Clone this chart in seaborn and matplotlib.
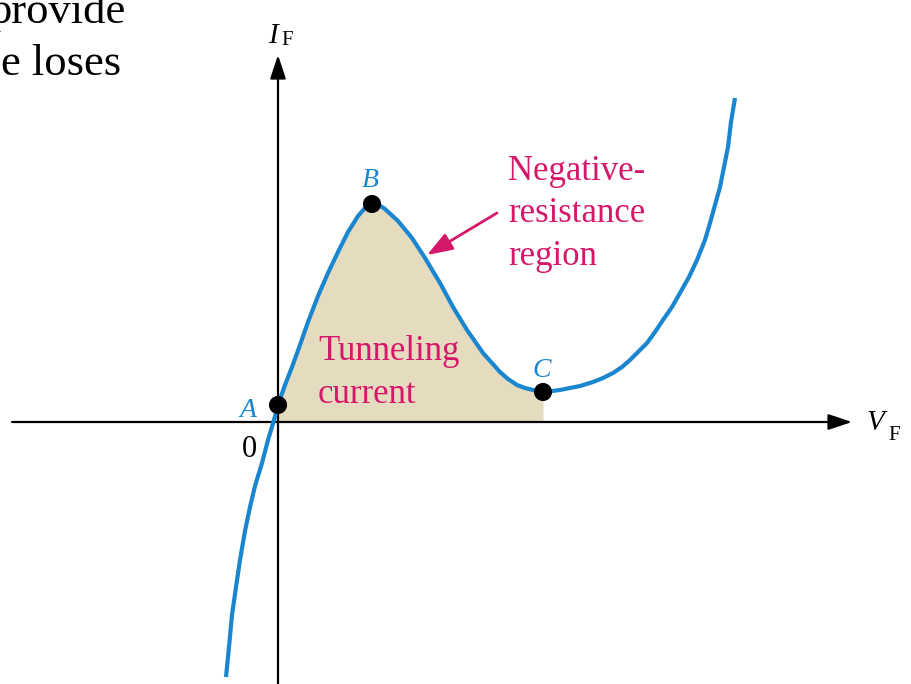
import numpy as np
import pandas as pd
import matplotlib
matplotlib.use('Agg')
import matplotlib.pyplot as plt
import seaborn as sns

# tunnel diode I-V curve (arbitrary units)
V_curve = [-0.52, -0.49, -0.46, -0.42, -0.38, -0.33, -0.28, -0.23, -0.16, -0.10,
           -0.04, 0.00, 0.07, 0.14, 0.22, 0.30, 0.40, 0.50, 0.60, 0.70,
           0.80, 0.87, 0.94, 1.01, 1.07, 1.20, 1.34, 1.47, 1.62, 1.75,
           1.89, 2.05, 2.22, 2.30, 2.39, 2.47, 2.55, 2.65, 2.74, 2.82,
           2.92, 3.02, 3.15, 3.25, 3.35, 3.44, 3.52, 3.60, 3.69, 3.77,
           3.85, 3.94, 4.02, 4.11, 4.19, 4.27, 4.32, 4.37, 4.42, 4.46,
           4.50, 4.53, 4.57]
I_curve = [-2.55, -2.25, -1.93, -1.65, -1.38, -1.09, -0.85, -0.64, -0.41, -0.18,
           0.02, 0.17, 0.37, 0.55, 0.77, 1.00, 1.26, 1.49, 1.70, 1.90,
           2.06, 2.14, 2.18, 2.17, 2.13, 2.01, 1.84, 1.64, 1.39, 1.15,
           0.92, 0.69, 0.50, 0.43, 0.37, 0.34, 0.32, 0.30, 0.31, 0.32,
           0.34, 0.36, 0.40, 0.44, 0.49, 0.55, 0.62, 0.70, 0.79, 0.90,
           1.02, 1.15, 1.29, 1.45, 1.62, 1.82, 1.99, 2.17, 2.35, 2.55,
           2.75, 3.00, 3.24]

pt_labels = ['A', 'B', 'C']
V_pts = [0.00, 0.94, 2.65]
I_pts = [0.17, 2.18, 0.30]

blue = '#1A86D0'
pink = '#D6186A'
tan = '#E5DCC0'

sns.set_style('white')
plt.rcParams['font.family'] = ['Liberation Serif', 'DejaVu Serif']
plt.rcParams['text.color'] = 'black'

df = pd.DataFrame({'V': V_curve, 'I': I_curve})
pts = pd.DataFrame({'V': V_pts, 'I': I_pts, 'label': pt_labels})

fig = plt.figure(figsize=(9.12, 6.84), dpi=100)
ax = fig.add_axes([0, 0, 1, 1])

# shaded tunneling region between A and C
sub = df[(df.V >= V_pts[0]) & (df.V <= V_pts[2])]
ax.fill_between(sub.V, 0, sub.I, color=tan, lw=0, zorder=1)

# axes with arrows
arr = dict(arrowstyle='-|>,head_length=0.6,head_width=0.2', mutation_scale=24,
           lw=1.6, color='black', shrinkA=0, shrinkB=0)
ax.annotate('', xy=(5.74, 0), xytext=(-2.66, 0), arrowprops=arr, zorder=2)
ax.annotate('', xy=(0, 3.67), xytext=(0, -2.7), arrowprops=arr, zorder=2)

sns.lineplot(data=df, x='V', y='I', sort=False, estimator=None, color=blue,
             lw=3, ax=ax, zorder=3, solid_joinstyle='round', solid_capstyle='butt')
sns.scatterplot(data=pts, x='V', y='I', color='black', s=170, edgecolor='none',
                ax=ax, zorder=4, legend=False)
ax.set_xlim(-2.78, 6.34)
ax.set_ylim(-2.62, 4.22)
ax.axis('off')

# point labels
ax.text(-0.38, 0.05, 'A', color=blue, fontsize=20, style='italic', va='baseline')
ax.text(0.84, 2.35, 'B', color=blue, fontsize=20, style='italic', va='baseline')
ax.text(2.54, 0.45, 'C', color=blue, fontsize=20, style='italic', va='baseline')
ax.text(-0.36, -0.35, '0', color='black', fontsize=22, va='baseline')

# axis labels
ax.text(-0.10, 3.79, 'I', color='black', fontsize=21, style='italic', va='baseline')
ax.text(0.03, 3.77, 'F', color='black', fontsize=15, va='baseline')
ax.text(5.88, -0.08, 'V', color='black', fontsize=21, style='italic', va='baseline')
ax.text(6.10, -0.18, 'F', color='black', fontsize=15, va='baseline')

# annotations
ax.text(2.30, 2.42, 'Negative-', color=pink, fontsize=25, va='baseline')
ax.text(2.30, 2.00, 'resistance', color=pink, fontsize=25, va='baseline')
ax.text(2.30, 1.57, 'region', color=pink, fontsize=25, va='baseline')
ax.annotate('', xy=(1.49, 1.67), xytext=(2.19, 2.09),
            arrowprops=dict(arrowstyle='-|>,head_length=0.7,head_width=0.25',
                            mutation_scale=22, lw=2, color=pink,
                            shrinkA=0, shrinkB=0))
ax.text(0.40, 0.62, 'Tunneling', color=pink, fontsize=25, va='baseline')
ax.text(0.40, 0.19, 'current', color=pink, fontsize=25, va='baseline')

# cut-off body text from the page
ax.text(-2.89, 3.99, 'provide', color='black', fontsize=32, va='baseline')
ax.text(-2.77, 3.47, 'e loses', color='black', fontsize=32, va='baseline')

plt.savefig('out.png', dpi=100)
